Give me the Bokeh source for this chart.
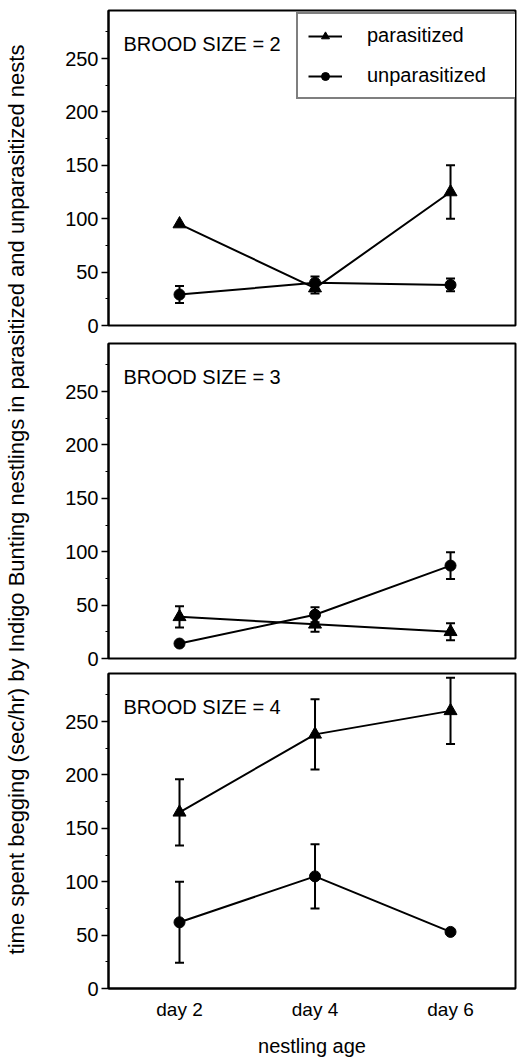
import numpy as np
from bokeh.plotting import figure
from bokeh.layouts import row, column
from bokeh.models import (Whisker, TeeHead, ColumnDataSource, Label,
                          SingleIntervalTicker, FixedTicker)
from bokeh.embed import file_html
from bokeh.resources import INLINE

# ---------------- data ----------------
days = [2, 4, 6]
day_labels = ["day 2", "day 4", "day 6"]
brood_sizes = [2, 3, 4]

par_b2 = [95, 35, 125]
par_b2_err = [0, 5, 25]
unp_b2 = [29, 40, 38]
unp_b2_err = [8, 6, 6]

par_b3 = [39, 32, 25]
par_b3_err = [10, 7, 8]
unp_b3 = [14, 41, 87]
unp_b3_err = [0, 7, 12.5]

par_b4 = [165, 238, 260]
par_b4_err = [31, 33, 31]
unp_b4 = [62, 105, 53]
unp_b4_err = [38, 30, 2]

ylabel = "time spent begging (sec/hr) by Indigo Bunting nestlings in parasitized and unparasitized nests"
xlabel = "nestling age"
series_names = ["parasitized", "unparasitized"]

FONT = "Liberation Sans"

panels = [
    (brood_sizes[0], par_b2, par_b2_err, unp_b2, unp_b2_err),
    (brood_sizes[1], par_b3, par_b3_err, unp_b3, unp_b3_err),
    (brood_sizes[2], par_b4, par_b4_err, unp_b4, unp_b4_err),
]

heights = [337, 333, 389]
tops = [10, 6, 3]
bottoms = [12, 12, 71]

figs = []
for i, (bs, pm, pe, um, ue) in enumerate(panels):
    p = figure(width=487, height=heights[i], x_range=(0.952, 6.959), y_range=(0, 295),
               output_backend="svg", toolbar_location=None,
               min_border_left=78, min_border_right=2,
               min_border_top=tops[i], min_border_bottom=bottoms[i])
    p.grid.visible = False
    p.outline_line_color = "black"
    p.outline_line_width = 2
    p.background_fill_color = "white"
    p.border_fill_color = "white"

    # y axis
    p.yaxis.ticker = SingleIntervalTicker(interval=50, num_minor_ticks=2)
    p.yaxis.axis_line_color = "black"
    p.yaxis.axis_line_width = 2
    p.yaxis.major_tick_out = 7
    p.yaxis.major_tick_in = 0
    p.yaxis.minor_tick_out = 3
    p.yaxis.minor_tick_in = 0
    p.yaxis.major_tick_line_width = 1.5
    p.yaxis.minor_tick_line_width = 1
    p.yaxis.major_label_text_font = FONT
    p.yaxis.major_label_text_font_size = "20px"
    p.yaxis.major_label_text_color = "black"
    p.yaxis.major_label_standoff = 3

    # x axis
    if i < 2:
        p.xaxis.visible = False
    else:
        p.xaxis.ticker = FixedTicker(ticks=days)
        p.xaxis.major_label_overrides = {d: l for d, l in zip(days, day_labels)}
        p.xaxis.axis_line_color = "black"
        p.xaxis.axis_line_width = 2
        p.xaxis.major_tick_out = 0
        p.xaxis.major_tick_in = 0
        p.xaxis.minor_tick_out = 0
        p.xaxis.minor_tick_in = 0
        p.xaxis.major_label_text_font = FONT
        p.xaxis.major_label_text_font_size = "19px"
        p.xaxis.major_label_text_color = "black"
        p.xaxis.major_label_standoff = 10
        p.xaxis.axis_label = xlabel
        p.xaxis.axis_label_text_font = FONT
        p.xaxis.axis_label_text_font_size = "20px"
        p.xaxis.axis_label_text_font_style = "normal"
        p.xaxis.axis_label_text_color = "black"
        p.xaxis.axis_label_standoff = 12

    for mean, err, marker, size, name in [(pm, pe, "triangle", 13, series_names[0]),
                                           (um, ue, "circle", 11, series_names[1])]:
        m = np.array(mean, dtype=float)
        e = np.array(err, dtype=float)
        src = ColumnDataSource(dict(x=days, y=m, lower=m - e, upper=m + e))
        w = Whisker(base="x", upper="upper", lower="lower", source=src,
                    line_color="black", line_width=2,
                    upper_head=TeeHead(size=9, line_width=2, line_color="black"),
                    lower_head=TeeHead(size=9, line_width=2, line_color="black"))
        p.add_layout(w)
        if i == 0:
            p.line("x", "y", source=src, line_color="black", line_width=2, legend_label=name)
            p.scatter("x", "y", source=src, marker=marker, size=size,
                      fill_color="black", line_color="black", legend_label=name)
        else:
            p.line("x", "y", source=src, line_color="black", line_width=2)
            p.scatter("x", "y", source=src, marker=marker, size=size,
                      fill_color="black", line_color="black")

    p.add_layout(Label(x=1.173, y=264, text=f"BROOD SIZE = {bs}", text_font=FONT,
                       text_font_size="20px", text_baseline="middle", text_color="black"))

    if i == 0:
        lg = p.legend[0]
        lg.location = (188, 226)
        lg.margin = 0
        lg.padding = 10
        lg.spacing = 17
        lg.label_height = 20
        lg.glyph_height = 20
        lg.glyph_width = 34
        lg.label_standoff = 25
        lg.label_width = 141
        lg.label_text_font = FONT
        lg.label_text_font_size = "20px"
        lg.label_text_color = "black"
        lg.border_line_color = "black"
        lg.border_line_width = 2
        lg.background_fill_color = "white"
        lg.background_fill_alpha = 1.0
    figs.append(p)

# y-axis label column
f0 = figure(width=30, height=1059, x_range=(0, 30), y_range=(0, 1059),
            output_backend="svg", toolbar_location=None, min_border=0)
f0.axis.visible = False
f0.grid.visible = False
f0.outline_line_color = None
f0.add_layout(Label(x=16, y=560, text=ylabel, angle=np.pi / 2, text_align="center",
                    text_baseline="middle", text_font=FONT, text_font_size="22px",
                    text_color="black"))

layout = row(f0, column(*figs, spacing=0), spacing=0)
open("out.html", "w").write(file_html(layout, INLINE))
